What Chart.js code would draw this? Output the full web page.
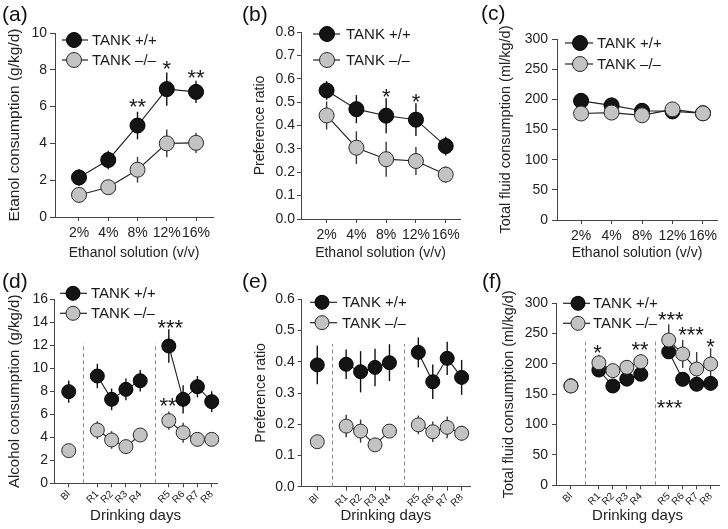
<!DOCTYPE html>
<html><head><meta charset="utf-8">
<script src="https://cdn.jsdelivr.net/npm/chart.js@4/dist/chart.umd.min.js"></script>
<style>
html,body{margin:0;padding:0;background:#fff}
body{width:728px;height:529px;position:relative;overflow:hidden;font-family:'Liberation Sans',Arial,sans-serif}
canvas{position:absolute}
.lab{position:absolute;font-size:21px;line-height:21px;color:#111;font-family:'Liberation Sans',Arial,sans-serif}
</style></head>
<body>
<canvas id="ca" width="240" height="262" style="left:0;top:0"></canvas>
<canvas id="cb" width="240" height="262" style="left:240px;top:0"></canvas>
<canvas id="cc" width="248" height="262" style="left:480px;top:0"></canvas>
<canvas id="cd" width="240" height="263" style="left:0;top:262px"></canvas>
<canvas id="ce" width="240" height="263" style="left:240px;top:262px"></canvas>
<canvas id="cf" width="248" height="263" style="left:480px;top:262px"></canvas>
<div class="lab" style="left:2px;top:3px">(a)</div>
<div class="lab" style="left:242px;top:3px">(b)</div>
<div class="lab" style="left:481px;top:2px">(c)</div>
<div class="lab" style="left:2px;top:270px">(d)</div>
<div class="lab" style="left:242px;top:270px">(e)</div>
<div class="lab" style="left:482px;top:270px">(f)</div>
<script>
const FONT = "'Liberation Sans', Arial, sans-serif";
const groupNames = ['TANK +/+', 'TANK \u2013/\u2013'];

// x categories
const concLabels = ['2%', '4%', '8%', '12%', '16%'];
const concPos = [0, 1, 2, 3, 4];
const dayLabels = ['Bl', 'R1', 'R2', 'R3', 'R4', 'R5', 'R6', 'R7', 'R8'];
const dayPos = [0, 2, 3, 4, 5, 7, 8, 9, 10];
const daySeparators = [1, 6];

// (a) Etanol consumption
const aWT = [2.15, 3.1, 4.97, 6.95, 6.8];
const aWTerr = [0.45, 0.5, 0.75, 0.9, 0.6];
const aKO = [1.2, 1.62, 2.57, 4.0, 4.03];
const aKOerr = [0.2, 0.2, 0.7, 0.75, 0.55];
const aYTicks = [0, 2, 4, 6, 8, 10];
const aYLabels = ['0', '2', '4', '6', '8', '10'];
const aStars = [[2, 6.27, '**'], [3, 8.35, '*'], [4, 7.84, '**']];

// (b) Preference ratio
const bWT = [0.55, 0.47, 0.442, 0.425, 0.312];
const bWTerr = [0.04, 0.06, 0.075, 0.07, 0.04];
const bKO = [0.443, 0.305, 0.256, 0.248, 0.19];
const bKOerr = [0.06, 0.07, 0.075, 0.06, 0.035];
const bYTicks = [0, 0.1, 0.2, 0.3, 0.4, 0.5, 0.6, 0.7, 0.8];
const bYLabels = ['0.0', '0.1', '0.2', '0.3', '0.4', '0.5', '0.6', '0.7', '0.8'];
const bStars = [[2, 0.545, '*'], [3, 0.526, '*']];

// (c) Total fluid consumption
const cWT = [197.5, 190, 181, 180, 177];
const cWTerr = [4, 4, 4, 4, 4];
const cKO = [176.5, 178, 173.5, 183.4, 176.8];
const cKOerr = [4, 4, 4, 4, 4];
const cYTicks = [0, 50, 100, 150, 200, 250, 300];
const cYLabels = ['0', '50', '100', '150', '200', '250', '300'];
const cStars = [];

// (d) Alcohol consumption
const dWT = [7.97, 9.33, 7.3, 8.17, 8.92, 11.94, 7.3, 8.4, 7.1];
const dWTerr = [0.96, 1.06, 0.94, 0.94, 0.94, 1.45, 1.22, 0.93, 0.91];
const dKO = [2.84, 4.63, 3.77, 3.19, 4.2, 5.45, 4.4, 3.82, 3.82];
const dKOerr = [0.3, 0.77, 0.77, 0.4, 0.4, 0.8, 0.87, 0.62, 0.5];
const dYTicks = [0, 2, 4, 6, 8, 10, 12, 14, 16];
const dYLabels = ['0', '2', '4', '6', '8', '10', '12', '14', '16'];
const dStars = [[7.1, 14.0, '***'], [6.95, 7.2, '**']];

// (e) Preference ratio
const eWT = [0.39, 0.392, 0.368, 0.382, 0.397, 0.43, 0.336, 0.411, 0.35];
const eWTerr = [0.062, 0.047, 0.066, 0.06, 0.059, 0.048, 0.055, 0.053, 0.056];
const eKO = [0.144, 0.194, 0.178, 0.134, 0.178, 0.198, 0.176, 0.19, 0.171];
const eKOerr = [0.02, 0.036, 0.037, 0.02, 0.02, 0.03, 0.033, 0.035, 0.024];
const eYTicks = [0, 0.1, 0.2, 0.3, 0.4, 0.5, 0.6];
const eYLabels = ['0.0', '0.1', '0.2', '0.3', '0.4', '0.5', '0.6'];
const eStars = [];

// (f) Total fluid consumption
const fWT = [164, 190, 163.7, 175, 183, 220, 174.7, 166.5, 168];
const fWTerr = [4, 8, 8, 8, 8, 10, 10, 8, 8];
const fKO = [163.7, 202, 189, 194.5, 203.8, 239.5, 216.4, 191.7, 200];
const fKOerr = [4, 13, 10, 12, 12, 26, 23, 28, 26];
const fYTicks = [0, 50, 100, 150, 200, 250, 300];
const fYLabels = ['0', '50', '100', '150', '200', '250', '300'];
const fStars = [[1.9, 227, '*'], [4.95, 232, '**'], [7.15, 281, '***'], [8.6, 257, '***'], [10, 237, '*'], [7.05, 136, '***']];

function pts(pos, vals, gapBefore) {
  const out = [];
  vals.forEach((v, i) => {
    if (gapBefore.includes(i)) out.push({x: pos[i] - 1, y: null});
    out.push({x: pos[i], y: v});
  });
  return out;
}

const extras = {
  id: 'extras',
  beforeDatasetsDraw(chart) {
    const o = chart.options.plugins.extras;
    const ctx = chart.ctx, xs = chart.scales.x, ys = chart.scales.y;
    ctx.save();
    if (o.seps) {
      ctx.strokeStyle = '#8c8c8c'; ctx.lineWidth = 1; ctx.setLineDash([4, 3]);
      o.seps.forEach(v => {
        const x = Math.round(xs.getPixelForValue(v)) + 0.5;
        ctx.beginPath();
        ctx.moveTo(x, ys.getPixelForValue(0));
        ctx.lineTo(x, ys.getPixelForValue(o.sepTop));
        ctx.stroke();
      });
      ctx.setLineDash([]);
    }
    o.errs.forEach((eb, k) => {
      ctx.strokeStyle = k === 0 ? '#111' : '#3a3a3a';
      ctx.lineWidth = 1.4;
      eb.vals.forEach((v, i) => {
        const x = xs.getPixelForValue(o.pos[i]);
        ctx.beginPath();
        ctx.moveTo(x, ys.getPixelForValue(v + eb.err[i]));
        ctx.lineTo(x, ys.getPixelForValue(v - eb.err[i]));
        ctx.stroke();
      });
    });
    ctx.restore();
  },
  afterDatasetsDraw(chart) {
    const o = chart.options.plugins.extras;
    const ctx = chart.ctx, xs = chart.scales.x, ys = chart.scales.y;
    ctx.save();
    // stars
    const sf = 22, sp = 8.5;
    ctx.font = sf + 'px ' + FONT; ctx.fillStyle = '#1a1a1a';
    ctx.textAlign = 'center'; ctx.textBaseline = 'alphabetic';
    o.stars.forEach(([xv, yv, t]) => {
      const cx = xs.getPixelForValue(xv), cy = ys.getPixelForValue(yv);
      for (let i = 0; i < t.length; i++) {
        ctx.fillText('*', cx + (i - (t.length - 1) / 2) * sp, cy + 0.575 * sf);
      }
    });
    // legend
    const L = o.legend;
    const styles = [['#141414', '#000'], ['#c3c3c3', '#2a2a2a']];
    groupNames.forEach((name, k) => {
      const y = L.rows[k];
      ctx.strokeStyle = '#222'; ctx.lineWidth = 1.2;
      ctx.beginPath(); ctx.moveTo(L.x0, y); ctx.lineTo(L.x1, y); ctx.stroke();
      ctx.beginPath(); ctx.arc(L.mx, y, L.r, 0, Math.PI * 2);
      ctx.fillStyle = styles[k][0]; ctx.fill();
      ctx.strokeStyle = styles[k][1]; ctx.lineWidth = 1; ctx.stroke();
      ctx.fillStyle = '#1a1a1a'; ctx.font = '15px ' + FONT;
      ctx.textAlign = 'left'; ctx.textBaseline = 'middle';
      ctx.fillText(name, L.tx, y + 1);
    });
    ctx.restore();
  }
};

function build(id, P) {
  const gaps = P.gaps || [];
  return new Chart(document.getElementById(id), {
    type: 'line',
    data: {datasets: [
      {label: groupNames[0], data: pts(P.pos, P.wt, gaps), order: 1, borderColor: '#222', borderWidth: 1.1,
       pointRadius: P.r, pointBorderWidth: 1, pointBackgroundColor: '#141414', pointBorderColor: '#000', spanGaps: false, tension: 0, clip: false},
      {label: groupNames[1], data: pts(P.pos, P.ko, gaps), order: 0, borderColor: '#222', borderWidth: 1.1,
       pointRadius: P.r, pointBorderWidth: 1, pointBackgroundColor: '#c3c3c3', pointBorderColor: '#2a2a2a', spanGaps: false, tension: 0, clip: false}
    ]},
    options: {
      responsive: false, animation: false, events: [],
      layout: {padding: {top: P.top, right: P.right, left: 0, bottom: 0}},
      scales: {
        x: {
          type: 'linear', min: P.xmin, max: P.xmax,
          afterFit(s) { s.height = P.xh; },
          afterBuildTicks(s) { s.ticks = P.pos.map(v => ({value: v})); },
          ticks: {callback: v => P.labels[P.pos.indexOf(v)], autoSkip: false, maxRotation: P.rot, minRotation: P.rot,
                  font: {size: P.xfs, family: FONT}, color: '#222', padding: P.xpad},
          grid: {drawOnChartArea: false, drawTicks: true, tickLength: 4, color: '#444', lineWidth: 1},
          border: {display: true, color: '#444', width: 1},
          title: {display: true, text: P.xtitle, font: {size: P.xtfs, family: FONT}, color: '#222', padding: {top: 0, bottom: 0}}
        },
        y: {
          min: 0, max: P.yticks[P.yticks.length - 1],
          afterFit(s) { s.width = P.yw; },
          afterBuildTicks(s) { s.ticks = P.yticks.map(v => ({value: v})); },
          ticks: {callback: v => P.ylabels[P.yticks.indexOf(v)], font: {size: 14, family: FONT}, color: '#222', padding: P.ypad},
          grid: {drawOnChartArea: false, drawTicks: true, tickLength: P.ytl, color: '#444', lineWidth: 1},
          border: {display: true, color: '#444', width: 1},
          title: {display: true, text: P.ytitle, font: {size: P.ytfs, family: FONT}, color: '#222', padding: {top: P.ytp, bottom: 0}}
        }
      },
      plugins: {
        legend: {display: false}, tooltip: {enabled: false},
        extras: {
          pos: P.pos, seps: P.seps, sepTop: P.sepTop, stars: P.stars, legend: P.legend,
          errs: [{vals: P.wt, err: P.wterr}, {vals: P.ko, err: P.koerr}]
        }
      }
    },
    plugins: [extras]
  });
}

const concTitle = 'Ethanol solution (v/v)';
const dayTitle = 'Drinking days';

build('ca', {pos: concPos, labels: concLabels, wt: aWT, wterr: aWTerr, ko: aKO, koerr: aKOerr,
  yticks: aYTicks, ylabels: aYLabels, stars: aStars, r: 7.5,
  yw: 55, top: 33, right: 27, xh: 45, xmin: -0.82, xmax: 4.58, rot: 0, xfs: 14, xpad: 3.5, xtfs: 14, xtitle: concTitle,
  ytitle: 'Etanol consumption (g/kg/d)', ytfs: 15.5, ytp: 5.7, ypad: 3, ytl: 5,
  legend: {x0: 62, x1: 88, mx: 74, tx: 92, rows: [40, 60], r: 7.5}});

build('cb', {pos: concPos, labels: concLabels, wt: bWT, wterr: bWTerr, ko: bKO, koerr: bKOerr,
  yticks: bYTicks, ylabels: bYLabels, stars: bStars, r: 7.5,
  yw: 61, top: 32, right: 20, xh: 43, xmin: -0.86, xmax: 4.48, rot: 0, xfs: 14, xpad: 3.5, xtfs: 14, xtitle: concTitle,
  ytitle: 'Preference ratio', ytfs: 14, ytp: 11.6, ypad: 2, ytl: 4,
  legend: {x0: 73, x1: 100, mx: 87, tx: 106, rows: [34, 60], r: 7.5}});

build('cc', {pos: concPos, labels: concLabels, wt: cWT, wterr: cWTerr, ko: cKO, koerr: cKOerr,
  yticks: cYTicks, ylabels: cYLabels, stars: cStars, r: 7.5,
  yw: 77, top: 39, right: 11, xh: 42, xmin: -0.79, xmax: 4.46, rot: 0, xfs: 14, xpad: 4, xtfs: 14, xtitle: concTitle,
  ytitle: 'Total fluid consumption (ml/kg/d)', ytfs: 14.5, ytp: 17.5, ypad: 4, ytl: 5,
  legend: {x0: 85, x1: 113, mx: 100, tx: 117, rows: [43, 64], r: 7.5}});

build('cd', {pos: dayPos, labels: dayLabels, wt: dWT, wterr: dWTerr, ko: dKO, koerr: dKOerr, gaps: [1, 5],
  yticks: dYTicks, ylabels: dYLabels, stars: dStars, r: 7, seps: daySeparators, sepTop: 12.2,
  yw: 54, top: 37.3, right: 23, xh: 41.7, xmin: -1.03, xmax: 10.37, rot: 45, xfs: 10, xpad: 1, xtfs: 15, xtitle: dayTitle,
  ytitle: 'Alcohol consumption (g/kg/d)', ytfs: 15, ytp: 6, ypad: 2, ytl: 4,
  legend: {x0: 60, x1: 87, mx: 73, tx: 91, rows: [31.3, 51.3], r: 7}});

build('ce', {pos: dayPos, labels: dayLabels, wt: eWT, wterr: eWTerr, ko: eKO, koerr: eKOerr, gaps: [1, 5],
  yticks: eYTicks, ylabels: eYLabels, stars: eStars, r: 7, seps: daySeparators, sepTop: 0.457,
  yw: 61.7, top: 37.3, right: 10, xh: 38.3, xmin: -1.08, xmax: 10.58, rot: 45, xfs: 10, xpad: 1, xtfs: 15, xtitle: dayTitle,
  ytitle: 'Preference ratio', ytfs: 14, ytp: 12.3, ypad: 3, ytl: 4,
  legend: {x0: 70, x1: 97, mx: 82, tx: 102, rows: [40.3, 60.7], r: 7}});

build('cf', {pos: dayPos, labels: dayLabels, wt: fWT, wterr: fWTerr, ko: fKO, koerr: fKOerr, gaps: [1, 5],
  yticks: fYTicks, ylabels: fYLabels, stars: fStars, r: 7, seps: daySeparators, sepTop: 237,
  yw: 76, top: 41.3, right: 9, xh: 39.7, xmin: -1.07, xmax: 10.6, rot: 45, xfs: 10, xpad: 1, xtfs: 15, xtitle: dayTitle,
  ytitle: 'Total fluid consumption (ml/kg/d)', ytfs: 14.5, ytp: 20.5, ypad: 4, ytl: 4,
  legend: {x0: 83, x1: 110, mx: 98, tx: 113, rows: [41.3, 61.3], r: 7}});
</script>
</body></html>
